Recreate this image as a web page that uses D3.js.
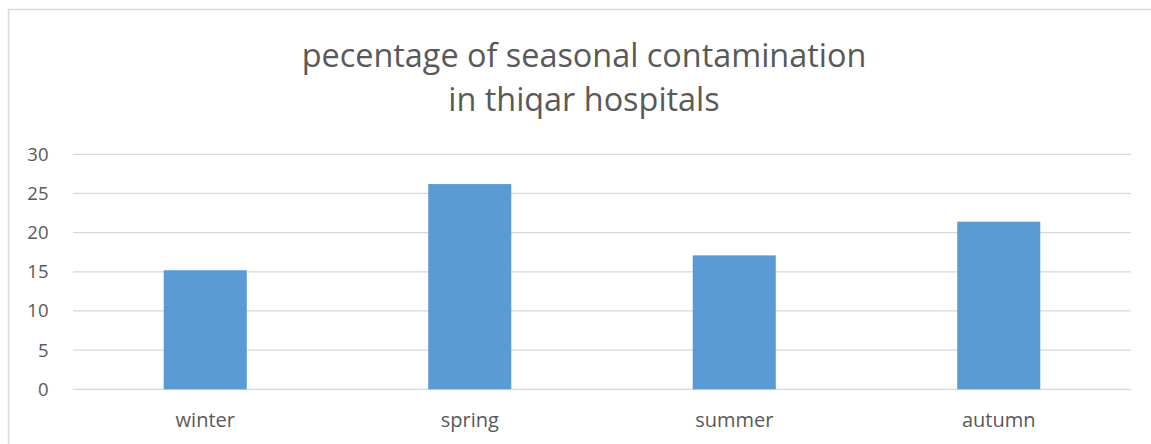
<!DOCTYPE html>
<html>
<head>
<meta charset="utf-8">
<script src="https://cdn.jsdelivr.net/npm/d3@7"></script>
<style>
  html, body { margin: 0; padding: 0; background: #fff; overflow: hidden; }
  text { font-family: "Open Sans", "Noto Sans", sans-serif; fill: #595959; }
</style>
</head>
<body>
<svg id="chart" width="1151" height="444"></svg>
<script>
const categories = ["winter", "spring", "summer", "autumn"];
const values = [15.2, 26.2, 17.1, 21.4];
const yTicks = [0, 5, 10, 15, 20, 25, 30];
const titleLines = ["pecentage of seasonal contamination", "in thiqar hospitals"];

const svg = d3.select("#chart");
const plot = { left: 73, right: 1131, top: 154.3, bottom: 389.3 };

// outer chart border (extends past the window on right/bottom)
svg.append("rect")
  .attr("x", 8.5).attr("y", 9.5)
  .attr("width", 1300).attr("height", 600)
  .attr("fill", "#fff")
  .attr("stroke", "#d9d9d9").attr("stroke-width", 1.5);

const x = d3.scaleBand()
  .domain(categories)
  .range([plot.left, plot.right])
  .paddingInner(0.686).paddingOuter(0.343);

const y = d3.scaleLinear().domain([0, 30]).range([plot.bottom, plot.top]);

// gridlines
svg.append("g")
  .selectAll("line")
  .data(yTicks)
  .join("line")
  .attr("x1", plot.left).attr("x2", plot.right)
  .attr("y1", d => y(d)).attr("y2", d => y(d))
  .attr("stroke", "#d9d9d9").attr("stroke-width", 1.3);

// y axis labels
const yAxis = d3.axisLeft(y).tickValues(yTicks).tickSize(0).tickPadding(0);
const gy = svg.append("g").attr("transform", `translate(48.5,0)`).call(yAxis);
gy.select(".domain").remove();
gy.selectAll("text")
  .attr("font-size", 18.5)
  .attr("fill", "#595959")
  .attr("font-family", null);

// bars
svg.append("g")
  .selectAll("rect")
  .data(values)
  .join("rect")
  .attr("x", (d, i) => x(categories[i]))
  .attr("width", x.bandwidth())
  .attr("y", d => y(d))
  .attr("height", d => y(0) - y(d))
  .attr("fill", "#5b9bd5");

// x axis labels
const xAxis = d3.axisBottom(x).tickSize(0).tickPadding(0);
const gx = svg.append("g").attr("transform", `translate(0,${plot.bottom + 23.5})`).call(xAxis);
gx.select(".domain").remove();
gx.selectAll("text")
  .attr("font-size", 20)
  .attr("fill", "#595959")
  .attr("font-family", null);

// title
svg.append("g")
  .selectAll("text")
  .data(titleLines)
  .join("text")
  .attr("x", 584)
  .attr("y", (d, i) => 67 + i * 44)
  .attr("text-anchor", "middle")
  .attr("font-size", 32.4)
  .text(d => d);
</script>
</body>
</html>
